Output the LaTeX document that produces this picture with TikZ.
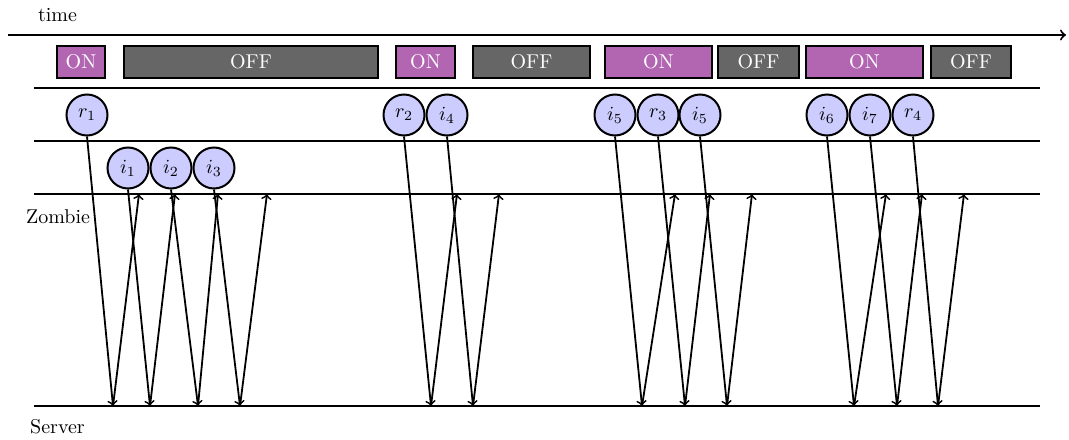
\documentclass[tikz,border=0pt]{standalone}
\begin{document}
\begin{tikzpicture}[x=0.5pt,y=-0.5pt,
  lane/.style={line width=1pt},
  onbox/.style={draw=black,line width=1pt,fill=violet!60,text=white,minimum height=16pt,inner sep=0pt},
  offbox/.style={draw=black,line width=1pt,fill=black!60,text=white,minimum height=16pt,inner sep=0pt},
  pkt/.style={circle,draw=black,line width=1pt,fill=blue!20,minimum size=20.5pt,inner sep=0pt},
  msg/.style={line width=0.9pt,->}]
\useasboundingbox (0,0) rectangle (1069,439);

% time axis
\node (tlabel) at (57.5,15) {time};
\coordinate (t0) at (8,35);
\coordinate (t1) at (1066,35);
\draw[line width=1pt,->] (t0) -- (t1);

% on/off periods
\node[onbox,minimum width=24pt]   (on1)  at (81,62)   {ON};
\node[offbox,minimum width=127pt] (off1) at (251,62)  {OFF};
\node[onbox,minimum width=29.5pt] (on2)  at (425.5,62) {ON};
\node[offbox,minimum width=58.5pt](off2) at (531.5,62) {OFF};
\node[onbox,minimum width=53.5pt] (on3)  at (658.5,62) {ON};
\node[offbox,minimum width=40.5pt](off3) at (758.5,62) {OFF};
\node[onbox,minimum width=58.5pt] (on4)  at (864.5,62) {ON};
\node[offbox,minimum width=40pt]  (off4) at (971,62)  {OFF};

% lanes
\foreach \y/\n in {88/a,141/b,194/c,406/d}{
  \coordinate (l\n0) at (34,\y);
  \coordinate (l\n1) at (1040,\y);
  \draw[lane] (l\n0) -- (l\n1);
}
\node (zombie) at (58,217) {Zombie};
\node (server) at (57.5,427) {Server};

% packets
\node[pkt] (r1)  at (87,115)  {$r_1$};
\node[pkt] (i1)  at (128,168) {$i_1$};
\node[pkt] (i2)  at (171,168) {$i_2$};
\node[pkt] (i3)  at (214,168) {$i_3$};
\node[pkt] (r2)  at (404,115) {$r_2$};
\node[pkt] (i4)  at (447,115) {$i_4$};
\node[pkt] (i5)  at (615,115) {$i_5$};
\node[pkt] (r3)  at (658,115) {$r_3$};
\node[pkt] (i5b) at (700,115) {$i_5$};
\node[pkt] (i6)  at (827,115) {$i_6$};
\node[pkt] (i7)  at (870,115) {$i_7$};
\node[pkt] (r4)  at (913,115) {$r_4$};

% requests to the server and replies back to the zombie
\foreach \p/\s/\z [count=\k] in {r1/113/139, i1/150/175, i2/198/218, i3/240/267,
                                  r2/431/457, i4/473/499,
                                  i5/642/675, r3/685/710, i5b/727/752,
                                  i6/854/886, i7/897/922, r4/938/964}{
  \coordinate (s\k) at (\s,406);
  \coordinate (z\k) at (\z,194);
  \draw[msg] (\p.south) -- (s\k);
  \draw[msg] (s\k) -- (z\k);
}
\end{tikzpicture}
\end{document}
